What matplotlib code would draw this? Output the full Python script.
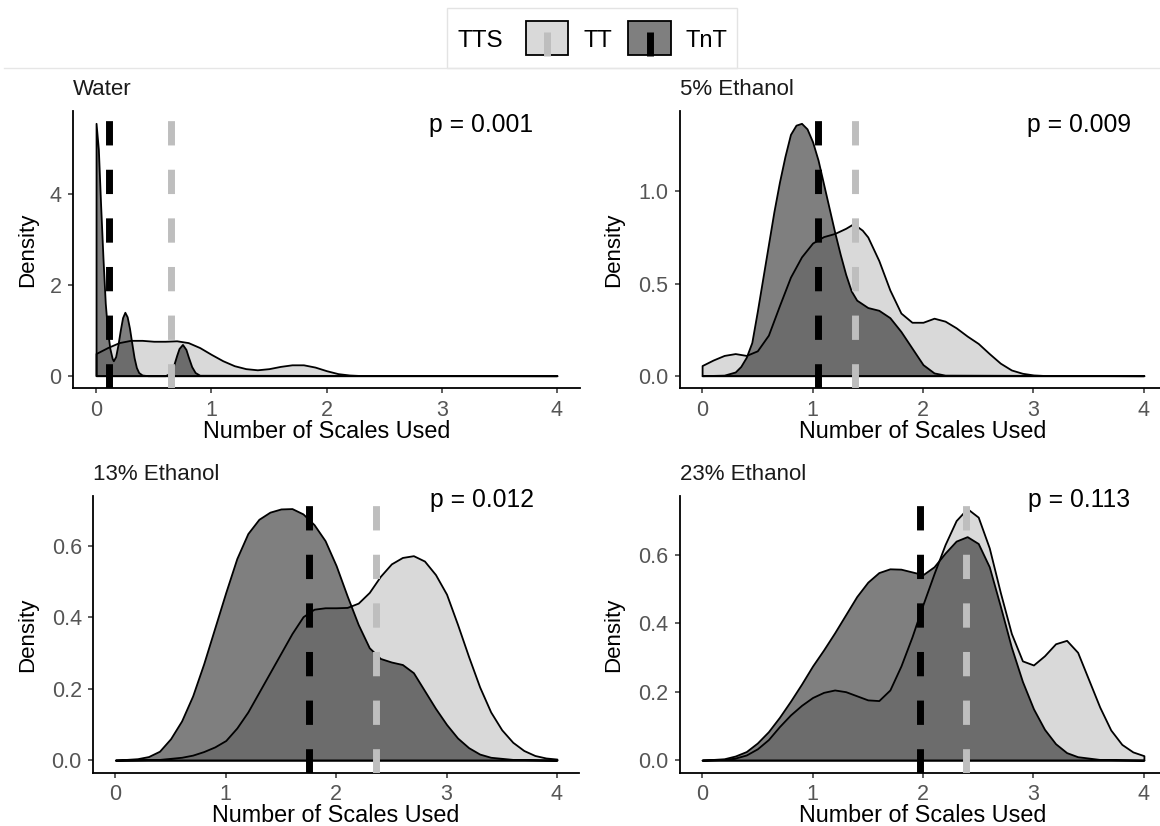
import matplotlib
matplotlib.use("Agg")
import matplotlib.pyplot as plt
from matplotlib.patches import Rectangle
from matplotlib.lines import Line2D
from matplotlib.ticker import FixedLocator, FormatStrFormatter

plt.rcParams['font.family'] = ['Liberation Sans', 'DejaVu Sans']

W, H, DPI = 1160, 826, 100

# ---------------------------------------------------------------- data
panel_titles = ["Water", "5% Ethanol", "13% Ethanol", "23% Ethanol"]
p_labels = ["p = 0.001", "p = 0.009", "p = 0.012", "p = 0.113"]
group_names = ["TT", "TnT"]
legend_title = "TTS"

# density estimates of the number of scales used, per treatment
water_tt_x = [0.0, 0.1, 0.2, 0.3, 0.4, 0.5, 0.6, 0.7, 0.8, 0.9, 1.0, 1.1, 1.2,
              1.3, 1.4, 1.5, 1.6, 1.7, 1.8, 1.9, 2.0, 2.1, 2.2, 2.3, 4.0]
water_tt = [0.49, 0.62, 0.73, 0.78, 0.78, 0.76, 0.76, 0.77, 0.73, 0.62, 0.47,
            0.33, 0.22, 0.155, 0.13, 0.155, 0.205, 0.24, 0.24, 0.19, 0.11,
            0.045, 0.015, 0.003, 0.0]
water_tnt_x = [0.0, 0.02, 0.04, 0.06, 0.08, 0.10, 0.12, 0.14, 0.15, 0.17, 0.19,
               0.21, 0.23, 0.25, 0.27, 0.29, 0.31, 0.33, 0.35, 0.37, 0.40, 0.45,
               0.60, 0.64, 0.67, 0.70, 0.72, 0.75, 0.78, 0.80, 0.83, 0.86, 0.90,
               4.00]
water_tnt = [5.57, 5.00, 3.75, 2.60, 1.60, 0.98, 0.60, 0.38, 0.33, 0.42, 0.68,
             1.00, 1.28, 1.40, 1.30, 1.05, 0.72, 0.40, 0.18, 0.07, 0.015, 0.0,
             0.0, 0.05, 0.20, 0.45, 0.60, 0.69, 0.58, 0.42, 0.20, 0.07, 0.01,
             0.0]

eth5_tt_x = [0.0, 0.1, 0.2, 0.3, 0.4, 0.5, 0.6, 0.7, 0.8, 0.9, 1.0, 1.1, 1.2,
             1.3, 1.37, 1.45, 1.5, 1.6, 1.7, 1.8, 1.9, 2.0, 2.1, 2.2, 2.3, 2.4,
             2.5, 2.6, 2.7, 2.8, 2.9, 3.0, 3.1, 4.0]
eth5_tt = [0.055, 0.085, 0.11, 0.12, 0.11, 0.135, 0.22, 0.38, 0.535, 0.645,
           0.72, 0.755, 0.772, 0.80, 0.825, 0.79, 0.753, 0.625, 0.465, 0.34,
           0.29, 0.29, 0.312, 0.296, 0.26, 0.215, 0.175, 0.12, 0.068, 0.031,
           0.013, 0.004, 0.001, 0.0]
eth5_tnt_x = [0.0, 0.2, 0.3, 0.35, 0.4, 0.45, 0.5, 0.55, 0.6, 0.65, 0.7, 0.75,
              0.8, 0.85, 0.9, 0.95, 1.0, 1.05, 1.1, 1.15, 1.2, 1.25, 1.3, 1.35,
              1.4, 1.5, 1.6, 1.7, 1.8, 1.9, 2.0, 2.1, 2.2, 4.0]
eth5_tnt = [0.0, 0.003, 0.02, 0.05, 0.10, 0.18, 0.35, 0.53, 0.71, 0.89, 1.05,
            1.19, 1.31, 1.36, 1.37, 1.34, 1.27, 1.17, 1.04, 0.91, 0.78, 0.66,
            0.55, 0.46, 0.41, 0.37, 0.355, 0.315, 0.24, 0.15, 0.06, 0.015,
            0.003, 0.0]

eth13_tt_x = [0.0, 0.4, 0.5, 0.6, 0.7, 0.8, 0.9, 1.0, 1.1, 1.2, 1.3, 1.4, 1.5,
              1.6, 1.7, 1.8, 1.9, 2.0, 2.1, 2.2, 2.3, 2.4, 2.5, 2.6, 2.7, 2.8,
              2.9, 3.0, 3.1, 3.2, 3.3, 3.4, 3.5, 3.6, 3.7, 3.8, 3.9, 4.0]
eth13_tt = [0.0, 0.002, 0.005, 0.008, 0.014, 0.024, 0.037, 0.055, 0.09, 0.135,
            0.19, 0.245, 0.30, 0.355, 0.402, 0.423, 0.427, 0.427, 0.428, 0.44,
            0.47, 0.515, 0.55, 0.568, 0.573, 0.558, 0.52, 0.465, 0.38, 0.29,
            0.205, 0.135, 0.085, 0.05, 0.027, 0.013, 0.006, 0.003]
eth13_tnt_x = [0.0, 0.2, 0.3, 0.4, 0.5, 0.6, 0.7, 0.8, 0.9, 1.0, 1.1, 1.2, 1.3,
               1.4, 1.5, 1.6, 1.7, 1.8, 1.9, 2.0, 2.1, 2.2, 2.3, 2.4, 2.5, 2.6,
               2.7, 2.8, 2.9, 3.0, 3.1, 3.2, 3.3, 3.4, 3.6, 4.0]
eth13_tnt = [0.0, 0.004, 0.01, 0.025, 0.06, 0.11, 0.18, 0.27, 0.37, 0.47, 0.565,
             0.635, 0.675, 0.695, 0.704, 0.705, 0.69, 0.66, 0.615, 0.545, 0.46,
             0.38, 0.315, 0.285, 0.275, 0.268, 0.245, 0.195, 0.145, 0.10, 0.062,
             0.035, 0.017, 0.008, 0.002, 0.0]

eth23_tt_x = [0.0, 0.2, 0.3, 0.4, 0.5, 0.6, 0.7, 0.8, 0.9, 1.0, 1.1, 1.2, 1.3,
              1.4, 1.5, 1.6, 1.7, 1.8, 1.9, 2.0, 2.1, 2.2, 2.3, 2.4, 2.5, 2.6,
              2.7, 2.8, 2.9, 3.0, 3.1, 3.2, 3.3, 3.4, 3.5, 3.6, 3.7, 3.8, 3.9,
              4.0]
eth23_tt = [0.0, 0.002, 0.006, 0.015, 0.033, 0.06, 0.098, 0.132, 0.16, 0.183,
            0.198, 0.205, 0.2, 0.188, 0.176, 0.174, 0.205, 0.275, 0.36, 0.455,
            0.545, 0.63, 0.70, 0.735, 0.71, 0.62, 0.49, 0.37, 0.29, 0.278,
            0.305, 0.34, 0.35, 0.315, 0.235, 0.155, 0.088, 0.046, 0.024, 0.013]
eth23_tnt_x = [0.0, 0.2, 0.3, 0.4, 0.5, 0.6, 0.7, 0.8, 0.9, 1.0, 1.1, 1.2, 1.3,
               1.4, 1.5, 1.6, 1.7, 1.8, 1.9, 2.0, 2.1, 2.2, 2.3, 2.4, 2.5, 2.6,
               2.7, 2.8, 2.9, 3.0, 3.1, 3.2, 3.3, 3.4, 3.6, 4.0]
eth23_tnt = [0.0, 0.004, 0.012, 0.025, 0.05, 0.083, 0.125, 0.172, 0.222, 0.275,
             0.322, 0.372, 0.425, 0.478, 0.52, 0.548, 0.559, 0.558, 0.55, 0.542,
             0.565, 0.605, 0.64, 0.653, 0.633, 0.565, 0.45, 0.33, 0.23, 0.15,
             0.09, 0.048, 0.022, 0.01, 0.002, 0.0]

# group means (dashed lines)
mean_tt = [0.652, 1.388, 2.362, 2.390]
mean_tnt = [0.114, 1.047, 1.751, 1.977]

x_ticks = [0, 1, 2, 3, 4]
y_ticks = [[0, 2, 4], [0.0, 0.5, 1.0], [0.0, 0.2, 0.4, 0.6], [0.0, 0.2, 0.4, 0.6]]
y_formats = ["%d", "%.1f", "%.1f", "%.1f"]

tt_curves = [(water_tt_x, water_tt), (eth5_tt_x, eth5_tt),
             (eth13_tt_x, eth13_tt), (eth23_tt_x, eth23_tt)]
tnt_curves = [(water_tnt_x, water_tnt), (eth5_tnt_x, eth5_tnt),
              (eth13_tnt_x, eth13_tnt), (eth23_tnt_x, eth23_tnt)]

# ---------------------------------------------------------------- style
TT_FILL = "#D9D9D9"
TNT_FILL = (0, 0, 0, 0.5)
TT_LINE = "#BEBEBE"
TNT_LINE = "black"
TICK_TXT = "#555555"
DASH = (0, (3.5, 3.5))

# panel boxes in pixels: left, top, right, bottom
panel_boxes = [(73, 110.7, 580, 388.3), (680, 110.7, 1166, 388.3),
               (93.3, 496, 579, 772.7), (680, 496, 1166, 772.7)]
ylabel_left_px = [28, 614, 28, 614]
p_pos = [(0.805, 0.925), (0.821, 0.925), (0.801, 0.962), (0.821, 0.962)]


def fx(px):
    return px / W


def fy(py):
    return 1 - py / H


fig = plt.figure(figsize=(W / DPI, H / DPI), dpi=DPI)
fig.patch.set_facecolor("white")

for i, box in enumerate(panel_boxes):
    l, t, r, b = box
    ax = fig.add_axes([fx(l), fy(b), (r - l) / W, (b - t) / H])
    ax.set_facecolor("white")

    tx, ty = tt_curves[i]
    nx, ny = tnt_curves[i]
    ax.fill_between(tx, ty, 0, facecolor=TT_FILL, edgecolor="black",
                    linewidth=1.3, zorder=2)
    ax.fill_between(nx, ny, 0, facecolor=TNT_FILL, edgecolor="black",
                    linewidth=1.3, zorder=3)
    ax.axvline(mean_tnt[i], color=TNT_LINE, lw=5, linestyle=DASH, zorder=4)
    ax.axvline(mean_tt[i], color=TT_LINE, lw=5, linestyle=DASH, zorder=4)

    xmin, xmax = min(tx[0], nx[0]), max(tx[-1], nx[-1])
    span = xmax - xmin
    ax.set_xlim(xmin - 0.05 * span, xmax + 0.05 * span)
    ymax = max(max(ty), max(ny))
    ax.set_ylim(-0.05 * ymax, 1.05 * ymax)

    ax.xaxis.set_major_locator(FixedLocator(x_ticks))
    ax.xaxis.set_major_formatter(FormatStrFormatter("%d"))
    ax.yaxis.set_major_locator(FixedLocator(y_ticks[i]))
    ax.yaxis.set_major_formatter(FormatStrFormatter(y_formats[i]))

    for side in ("top", "right"):
        ax.spines[side].set_visible(False)
    for side in ("left", "bottom"):
        ax.spines[side].set_linewidth(1.3)
        ax.spines[side].set_color("black")
    ax.tick_params(axis="both", length=3.3, width=1.1, color="#333333",
                   labelsize=15.5, labelcolor=TICK_TXT, pad=5)

    ax_h = b - t
    ax_w = r - l
    ax.set_xlabel("Number of Scales Used", fontsize=16.8, color="black")
    ax.xaxis.set_label_coords(0.5, -49.5 / ax_h)
    ax.xaxis.label.set_va("baseline")
    ax.set_ylabel("Density", fontsize=16, color="black")
    ax.yaxis.set_label_coords((ylabel_left_px[i] - l) / ax_w, 0.5)
    ax.yaxis.label.set_va("center")

    ax.annotate(panel_titles[i], xy=(0, 1), xycoords="axes fraction",
                xytext=(0, 15.5 * 0.72), textcoords="offset points",
                ha="left", va="baseline", fontsize=16, color="#1A1A1A")
    ax.text(p_pos[i][0], p_pos[i][1], p_labels[i], transform=ax.transAxes,
            ha="center", va="baseline", fontsize=17.8, color="black",
            clip_on=False)

# ---------------------------------------------------------------- legend
fig.add_artist(Line2D([fx(4), 1.0], [fy(67.5), fy(67.5)], color="#E6E6E6",
                      lw=1.0, transform=fig.transFigure))
fig.add_artist(Rectangle((fx(447), fy(67.5)), (737 - 447) / W, (67.5 - 8) / H,
                         transform=fig.transFigure, fill=False,
                         edgecolor="#E3E3E3", lw=1.0))
fig.text(fx(458), fy(46.7), legend_title, ha="left", va="baseline",
         fontsize=17.5, color="black")

key_specs = [((526, 21, 568, 55), TT_FILL, TT_LINE, 583),
             ((628, 21, 671, 55), TNT_FILL, TNT_LINE, 686)]
for name, ((kl, kt, kr, kb), fill, line_col, text_x) in zip(group_names, key_specs):
    fig.add_artist(Rectangle((fx(kl), fy(kb)), (kr - kl) / W, (kb - kt) / H,
                             transform=fig.transFigure, facecolor=fill,
                             edgecolor="black", lw=1.3))
    cx = (kl + kr) / 2
    fig.add_artist(Line2D([fx(cx), fx(cx)], [fy(32), fy(kb + 0.5)],
                          color=line_col, lw=5, solid_capstyle="butt",
                          transform=fig.transFigure))
    fig.text(fx(text_x), fy(46.7), name, ha="left", va="baseline",
             fontsize=17, color="black")

fig.savefig("out.png", dpi=DPI, facecolor="white")
